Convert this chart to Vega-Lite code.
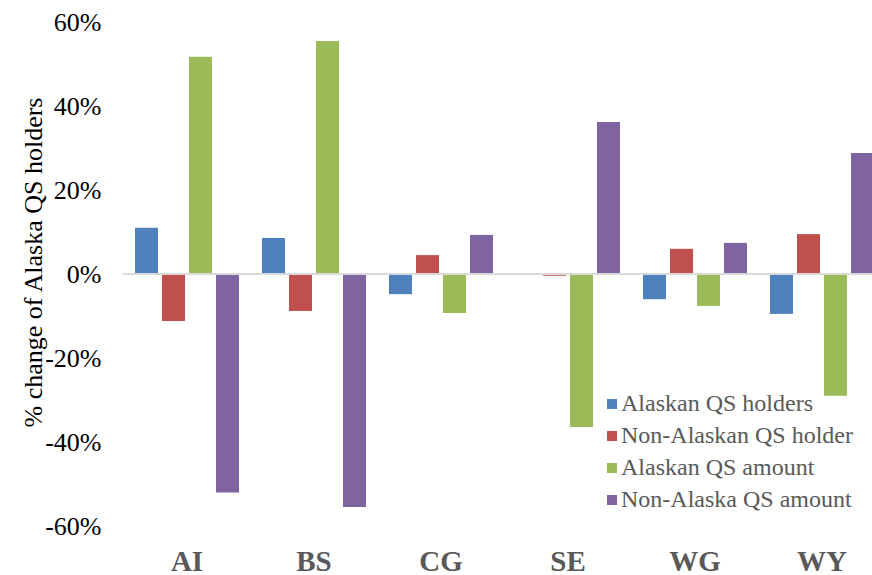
{
  "$schema": "https://vega.github.io/schema/vega-lite/v6.json",
  "width": 749,
  "height": 504,
  "autosize": {"type": "none"},
  "padding": {"left": 123, "top": 22, "right": 0, "bottom": 49},
  "background": "white",
  "config": {"view": {"stroke": null}, "font": "Liberation Serif, Times New Roman, serif"},
  "data": {
    "values": [
      {"region": "AI", "series": "Alaskan QS holders", "value": 0.11},
      {"region": "AI", "series": "Non-Alaskan QS holder", "value": -0.112},
      {"region": "AI", "series": "Alaskan QS amount", "value": 0.517},
      {"region": "AI", "series": "Non-Alaska QS amount", "value": -0.52},
      {"region": "BS", "series": "Alaskan QS holders", "value": 0.086},
      {"region": "BS", "series": "Non-Alaskan QS holder", "value": -0.088},
      {"region": "BS", "series": "Alaskan QS amount", "value": 0.555},
      {"region": "BS", "series": "Non-Alaska QS amount", "value": -0.555},
      {"region": "CG", "series": "Alaskan QS holders", "value": -0.048},
      {"region": "CG", "series": "Non-Alaskan QS holder", "value": 0.045},
      {"region": "CG", "series": "Alaskan QS amount", "value": -0.093},
      {"region": "CG", "series": "Non-Alaska QS amount", "value": 0.093},
      {"region": "SE", "series": "Alaskan QS holders", "value": -0.001},
      {"region": "SE", "series": "Non-Alaskan QS holder", "value": -0.004},
      {"region": "SE", "series": "Alaskan QS amount", "value": -0.364},
      {"region": "SE", "series": "Non-Alaska QS amount", "value": 0.362},
      {"region": "WG", "series": "Alaskan QS holders", "value": -0.06},
      {"region": "WG", "series": "Non-Alaskan QS holder", "value": 0.06},
      {"region": "WG", "series": "Alaskan QS amount", "value": -0.076},
      {"region": "WG", "series": "Non-Alaska QS amount", "value": 0.074},
      {"region": "WY", "series": "Alaskan QS holders", "value": -0.095},
      {"region": "WY", "series": "Non-Alaskan QS holder", "value": 0.095},
      {"region": "WY", "series": "Alaskan QS amount", "value": -0.29},
      {"region": "WY", "series": "Non-Alaska QS amount", "value": 0.288}
    ]
  },
  "layer": [
    {
      "mark": {"type": "bar"},
      "encoding": {
        "x": {
          "field": "region",
          "type": "nominal",
          "sort": null,
          "scale": {"range": [0, 763], "paddingInner": 0.181, "paddingOuter": 0.0945},
          "axis": {
            "title": null,
            "domain": false,
            "ticks": false,
            "tickSize": 0,
            "labelAngle": 0,
            "labelFont": "Liberation Serif, Times New Roman, serif",
            "labelFontSize": 29,
            "labelFontWeight": "bold",
            "labelColor": "#595959",
            "labelBaseline": "alphabetic",
            "labelPadding": 44
          }
        },
        "xOffset": {
          "field": "series",
          "type": "nominal",
          "sort": ["Alaskan QS holders", "Non-Alaskan QS holder", "Alaskan QS amount", "Non-Alaska QS amount"],
          "scale": {"paddingInner": 0.148, "paddingOuter": 0}
        },
        "y": {
          "field": "value",
          "type": "quantitative",
          "scale": {"domain": [-0.6, 0.6], "nice": false},
          "axis": {
            "values": [-0.6, -0.4, -0.2, 0, 0.2, 0.4, 0.6],
            "labelExpr": "round(datum.value*100) + '%'",
            "grid": false,
            "domain": false,
            "ticks": false,
            "tickSize": 0,
            "labelFont": "Liberation Serif, Times New Roman, serif",
            "labelFontSize": 26,
            "labelColor": "#000000",
            "labelPadding": 22,
            "title": "% change of Alaska QS holders",
            "titleFont": "Liberation Serif, Times New Roman, serif",
            "titleFontSize": 26,
            "titleFontWeight": "normal",
            "titleColor": "#000000",
            "titleAngle": -90,
            "titleX": -82,
            "titleY": 240,
            "titleAlign": "center",
            "titleBaseline": "alphabetic"
          }
        },
        "color": {
          "field": "series",
          "type": "nominal",
          "scale": {
            "domain": ["Alaskan QS holders", "Non-Alaskan QS holder", "Alaskan QS amount", "Non-Alaska QS amount"],
            "range": ["#4F81BD", "#C0504D", "#9BBB59", "#8064A2"]
          },
          "legend": {
            "orient": "none",
            "legendX": 477,
            "legendY": 370,
            "title": null,
            "padding": 0,
            "symbolType": "square",
            "symbolSize": 100,
            "symbolStrokeWidth": 0,
            "labelFont": "Liberation Serif, Times New Roman, serif",
            "labelFontSize": 24,
            "labelColor": "#595959",
            "labelOffset": -3,
            "labelLimit": 400,
            "rowPadding": 8,
            "labelExpr": "datum.label == 'Alaskan QS holders' ? '\u00a0\u00a0Alaskan QS holders' : datum.label"
          }
        }
      }
    },
    {
      "mark": {"type": "rule", "color": "#D9D9D9", "strokeWidth": 2},
      "encoding": {"y": {"datum": 0}}
    }
  ]
}
